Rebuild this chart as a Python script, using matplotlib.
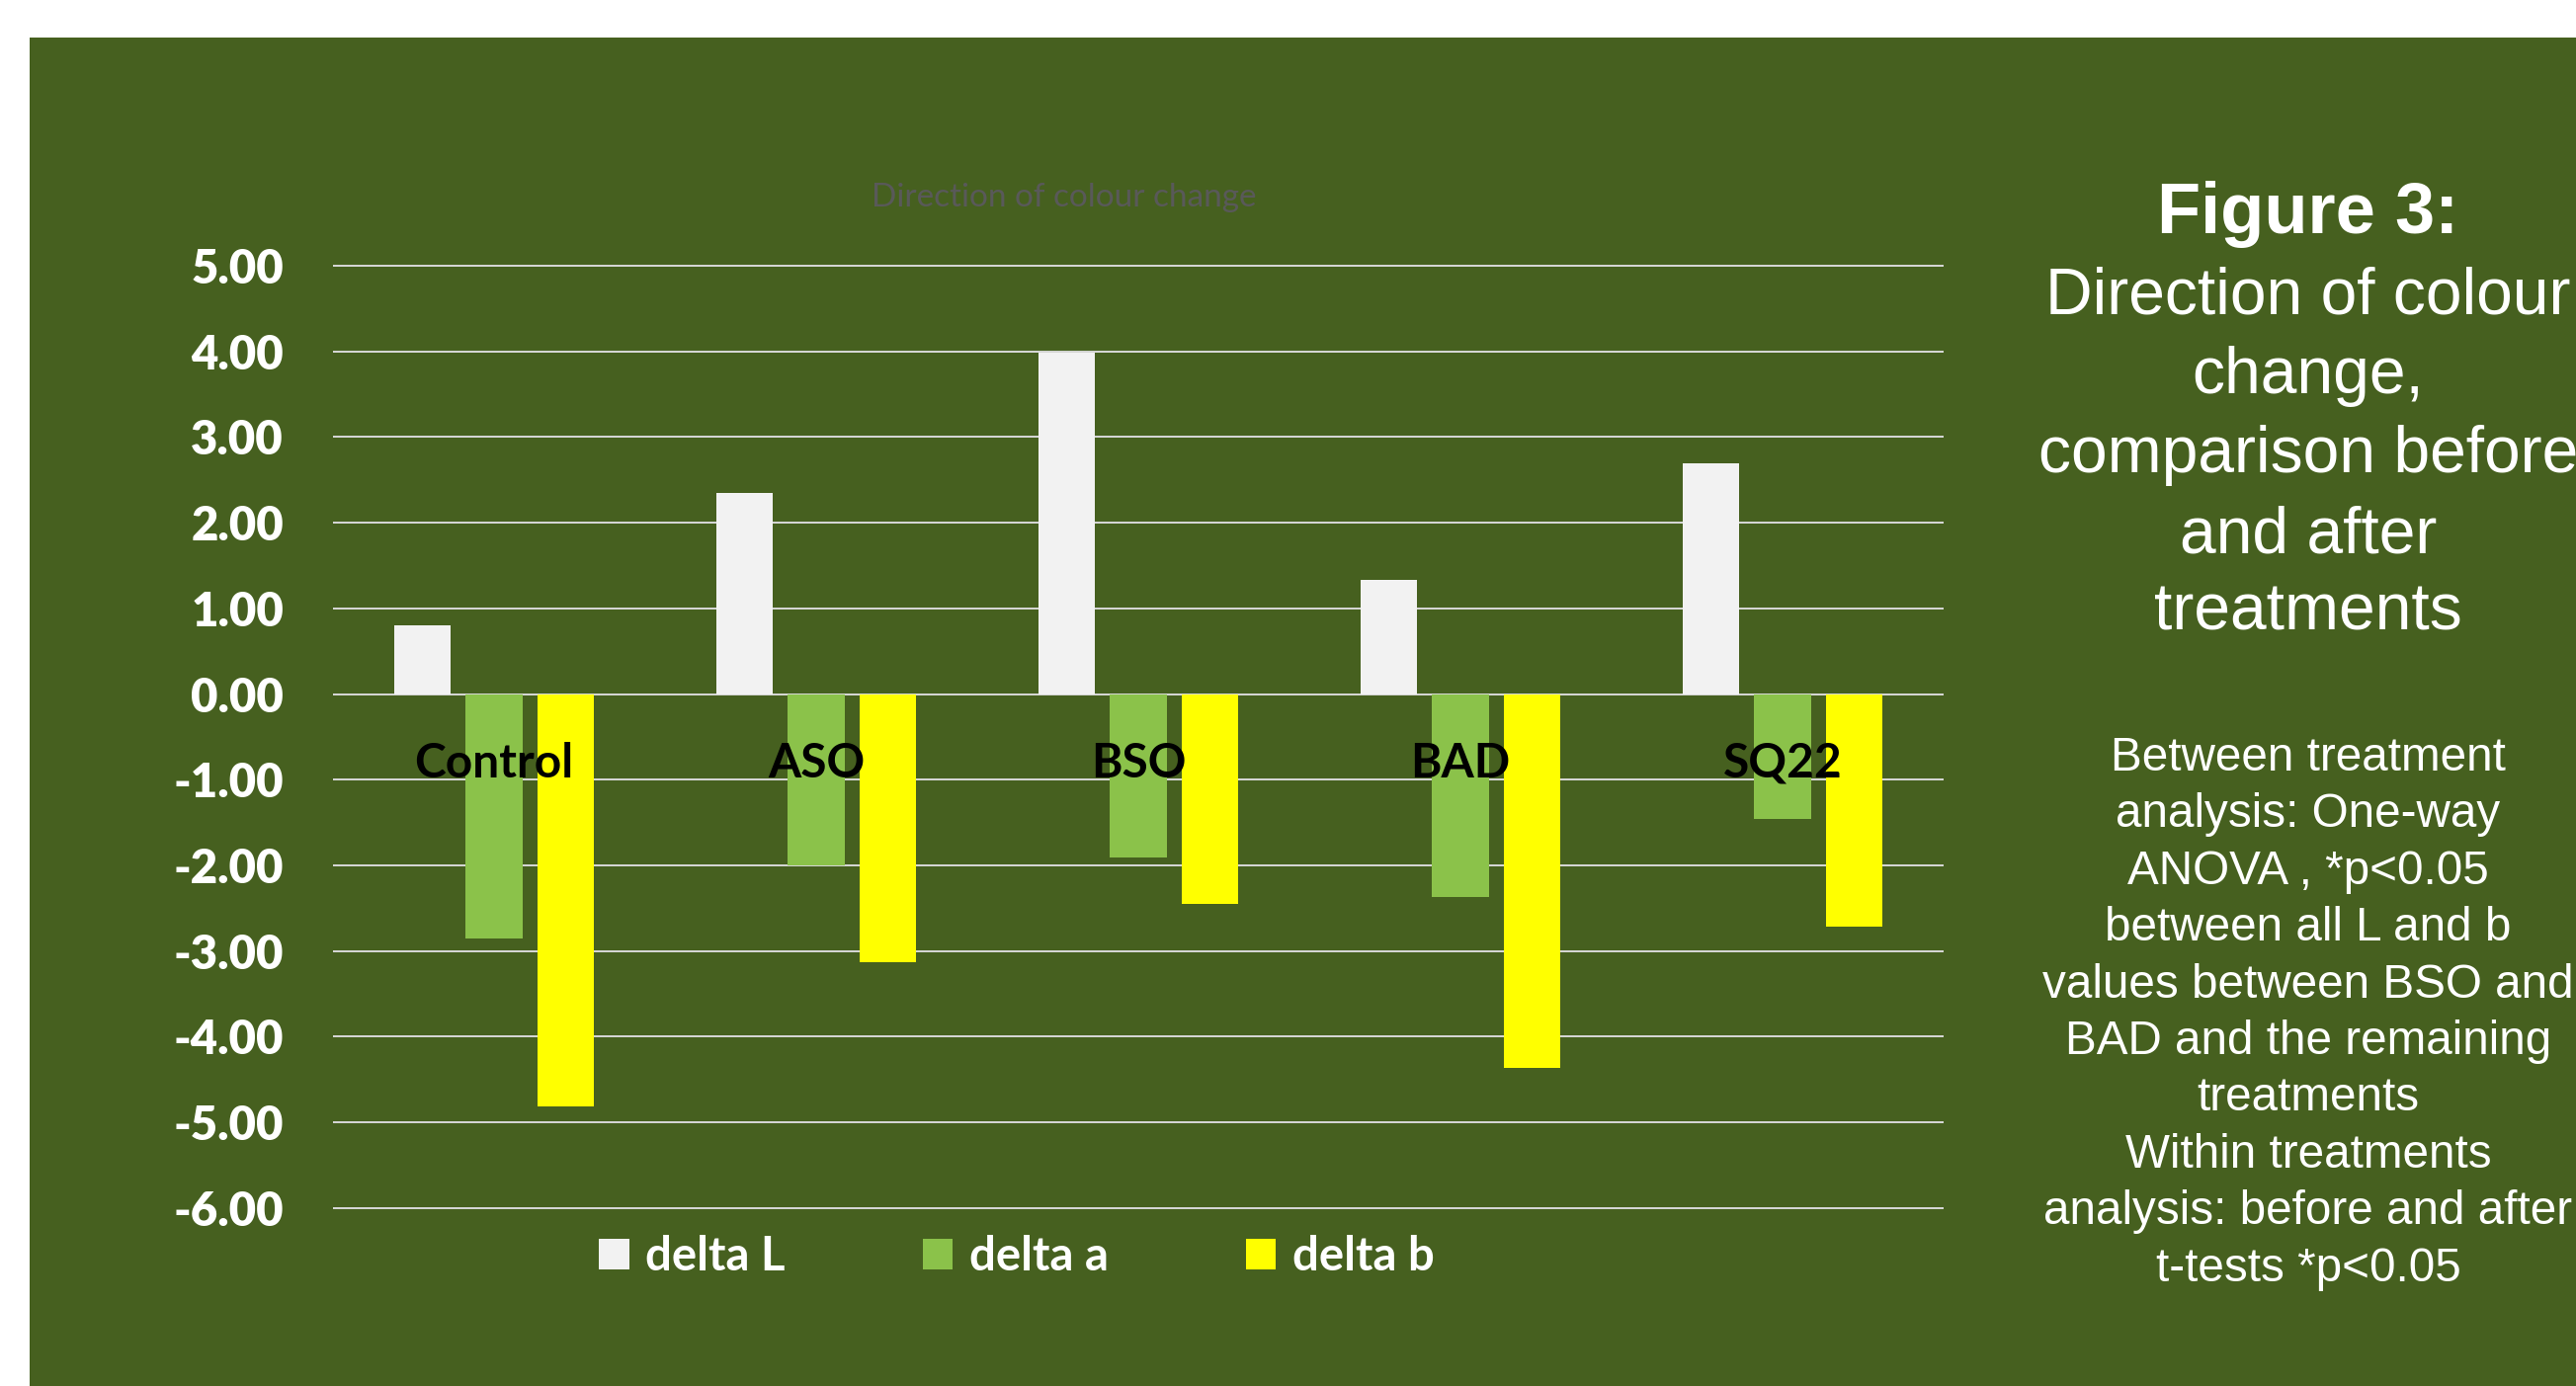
import numpy as np
import matplotlib
matplotlib.use("Agg")
import matplotlib.pyplot as plt
from matplotlib.patches import Rectangle

# ---------------- data ----------------
categories = ["Control", "ASO", "BSO", "BAD", "SQ22"]
delta_L = [0.80, 2.35, 3.99, 1.33, 2.69]
delta_a = [-2.85, -2.00, -1.91, -2.37, -1.46]
delta_b = [-4.81, -3.13, -2.45, -4.36, -2.72]
series_names = ["delta L", "delta a", "delta b"]
yticks = [5, 4, 3, 2, 1, 0, -1, -2, -3, -4, -5, -6]

chart_title = "Direction of colour change"
fig_heading = "Figure 3:"
fig_sub = ["Direction of colour", "change,", "comparison before", "and after", "treatments"]
fig_notes = ["Between treatment", "analysis: One-way", "ANOVA , *p<0.05",
             "between all L and b", "values between BSO and",
             "BAD and the remaining", "treatments", "Within treatments",
             "analysis: before and after", "t-tests *p<0.05"]

# ---------------- style ----------------
W, H = 2607, 1403
BG = "#46601F"
COL_L = "#F2F2F2"
COL_A = "#8BC24A"
COL_B = "#FFFF00"
GRID = "#D9D9D9"
CAL = ["Lato", "DejaVu Sans"]
ARIAL = ["Liberation Sans", "DejaVu Sans"]

fig = plt.figure(figsize=(W / 100, H / 100), dpi=100)
fig.patch.set_facecolor("white")
fig.add_artist(Rectangle((30 / W, 0), 1, 1 - 37.5 / H, transform=fig.transFigure,
                         facecolor=BG, edgecolor="none", zorder=0))

# axes placement (pixels -> figure fraction)
left_px, right_px = 337, 1967
top_px, bot_px = 266.4, 1225.4
ax = fig.add_axes([left_px / W, 1 - bot_px / H, (right_px - left_px) / W, (bot_px - top_px) / H])
ax.set_facecolor("none")

x = np.arange(len(categories))
bw = 0.175
off = 0.223
b1 = ax.bar(x - off, delta_L, bw, color=COL_L, label=series_names[0], zorder=2)
b2 = ax.bar(x, delta_a, bw, color=COL_A, label=series_names[1], zorder=2)
b3 = ax.bar(x + off, delta_b, bw, color=COL_B, label=series_names[2], zorder=2)

ax.set_xlim(-0.5, len(categories) - 0.5)
ax.set_ylim(-6.03, 5.03)
ax.set_yticks(yticks)
ax.set_yticklabels([f"{v:.2f}" for v in yticks])
ax.set_xticks([])
ax.grid(axis="y", color=GRID, linewidth=1.4, zorder=1)
ax.set_axisbelow(True)
for s in ax.spines.values():
    s.set_visible(False)
ax.tick_params(axis="y", length=0, pad=36, labelsize=34, labelcolor="white")
for lab in ax.get_yticklabels():
    lab.set_fontfamily(CAL)
    lab.set_fontweight("heavy")

# category labels (sit just above the -1 gridline, drawn over bars)
for i, c in enumerate(categories):
    ax.text(i, -0.972, c, ha="center", va="baseline", fontsize=34.5, fontweight="bold",
            color="black", family=CAL, zorder=5)

# chart title
fig.text(1077 / W, 1 - 209 / H, chart_title, ha="center", va="baseline",
         fontsize=24, color="#595959", family=CAL)

# legend
leg = fig.legend(handles=[b1, b2, b3], labels=series_names, loc="center",
                 bbox_to_anchor=(1029 / W, 1 - 1272 / H), ncol=3, frameon=False,
                 prop={"family": CAL, "weight": "bold", "size": 34},
                 labelcolor="white", handlelength=0.64, handleheight=0.64,
                 handletextpad=0.35, columnspacing=2.95)

# right-side caption
cx = 2336 / W
fig.text(cx, 1 - 236 / H, fig_heading, ha="center", va="baseline", fontsize=52,
         fontweight="bold", color="white", family=ARIAL)
for yb, line in zip([317, 398, 478, 559, 638], fig_sub):
    fig.text(cx, 1 - yb / H, line, ha="center", va="baseline", fontsize=47.5,
             color="white", family=ARIAL)
for k, line in enumerate(fig_notes):
    yb = 780 + 57.4 * k
    fig.text(cx, 1 - yb / H, line, ha="center", va="baseline", fontsize=34.3,
             color="white", family=ARIAL)

fig.savefig("out.png", dpi=100, facecolor=fig.get_facecolor())
